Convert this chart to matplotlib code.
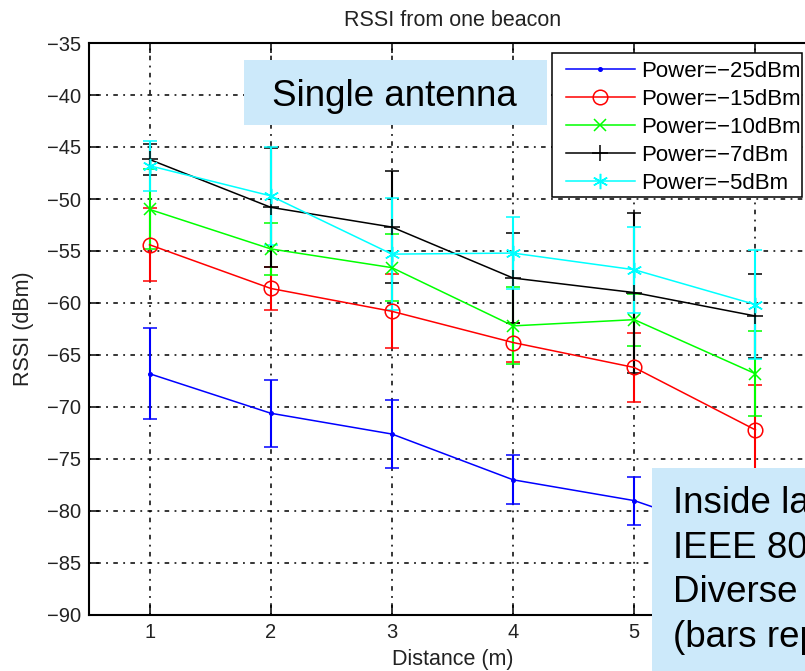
import matplotlib
matplotlib.use("Agg")
import matplotlib.pyplot as plt
from matplotlib.patches import Rectangle
from matplotlib.lines import Line2D

plt.rcParams['font.family'] = ['Liberation Sans', 'DejaVu Sans']

# Mean RSSI (dBm) and standard deviation per distance, one series per TX power
distance = [1, 2, 3, 4, 5, 6]
rssi_m25 = [-66.8, -70.6, -72.6, -77.0, -79.0, -83.0]
std_m25 = [4.35, 3.2, 3.3, 2.35, 2.3, 2.5]
rssi_m15 = [-54.4, -58.6, -60.8, -63.8, -66.2, -72.2]
std_m15 = [3.5, 2.1, 3.55, 1.9, 3.35, 4.35]
rssi_m10 = [-51.0, -54.8, -56.6, -62.2, -61.6, -66.8]
std_m10 = [3.85, 2.5, 3.2, 3.7, 2.5, 4.1]
rssi_m7 = [-46.2, -50.8, -52.7, -57.6, -59.0, -61.25]
std_m7 = [1.5, 5.7, 5.4, 4.35, 7.7, 4.05]
rssi_m5 = [-46.8, -49.7, -55.3, -55.2, -56.8, -60.15]
std_m5 = [2.4, 4.7, 5.35, 3.45, 4.15, 5.25]

labels = ['Power=\u221225dBm', 'Power=\u221215dBm', 'Power=\u221210dBm',
          'Power=\u22127dBm', 'Power=\u22125dBm']
x_ticks = [1, 2, 3, 4, 5, 6]
y_ticks = list(range(-90, -34, 5))

W, H = 805, 671
fig = plt.figure(figsize=(W / 100, H / 100), dpi=100)
ax = fig.add_axes([89 / W, 1 - 615 / H, (816 - 89) / W, (615 - 43) / H])

asterisk = (6, 2, 0)
styles = [
    dict(color='#0000ff', marker='.', ms=5),
    dict(color='#ff0000', marker='o', ms=10.5, mfc='none'),
    dict(color='#00ff00', marker='x', ms=8),
    dict(color='#000000', marker='+', ms=11),
    dict(color='#00ffff', marker=asterisk, ms=11),
]
series = [(rssi_m25, std_m25), (rssi_m15, std_m15), (rssi_m10, std_m10),
          (rssi_m7, std_m7), (rssi_m5, std_m5)]

handles = []
for (y, e), st, lab in zip(series, styles, labels):
    ax.errorbar(distance, y, yerr=e, color=st['color'], marker=st['marker'],
                ms=st['ms'], mfc=st.get('mfc', st['color']), mew=1.1,
                lw=1.1, elinewidth=1.5, capsize=5, capthick=1.5, zorder=3)
    handles.append(Line2D([], [], color=st['color'], marker=st['marker'],
                          ms=st['ms'], mfc=st.get('mfc', st['color']),
                          mew=1.1, lw=1.1))

ax.set_xlim(0.5, 6.5)
ax.set_ylim(-90, -35)
ax.set_xticks(x_ticks)
ax.set_yticks(y_ticks)
ax.set_yticklabels([str(v).replace('-', '\u2212') for v in y_ticks])
ax.grid(True, color='black', linestyle=(0, (1.2, 3.5, 3, 3.5)), linewidth=1.1, zorder=1)
ax.set_axisbelow(True)
ax.tick_params(direction='in', length=7, width=1.1, top=True, right=True,
               labelsize=14.5, pad=6, colors='black', labelcolor='#222222')
for sp in ax.spines.values():
    sp.set_linewidth(1.5)

ax.set_title('RSSI from one beacon', fontsize=15.5, pad=12, color='#222222')
ax.set_xlabel('Distance (m)', fontsize=15.5, labelpad=5, color='#222222')
ax.set_ylabel('RSSI (dBm)', fontsize=15.5, labelpad=9, color='#222222')

# Legend frame and entries
fig.add_artist(Rectangle((552 / W, 1 - 197 / H), 250 / W, 144 / H,
                         transform=fig.transFigure, facecolor='white',
                         edgecolor='black', lw=1.1, zorder=4))
fig.legend(handles, labels, loc='upper left', bbox_to_anchor=(566 / W, 1 - 61 / H),
           frameon=False, fontsize=16, handlelength=3.1, handletextpad=0.3,
           labelspacing=0.31, borderpad=0, borderaxespad=0, numpoints=1)

# Annotation boxes
box_color = '#cce9fa'
fig.add_artist(Rectangle((244 / W, 1 - 125 / H), 303 / W, 65 / H,
                         transform=fig.transFigure, facecolor=box_color,
                         edgecolor='none', zorder=6))
fig.text(272 / W, 1 - 106 / H, 'Single antenna', fontsize=26.5,
         va='baseline', ha='left', zorder=7)

fig.add_artist(Rectangle((652 / W, -0.02), 0.2, 1 - 468 / H + 0.02,
                         transform=fig.transFigure, facecolor=box_color,
                         edgecolor='none', zorder=6))
note_lines = ['Inside lab', 'IEEE 802.15.4', 'Diverse positions', '(bars represent std)']
for line, base in zip(note_lines, [513, 558, 602, 647]):
    fig.text(673 / W, 1 - base / H, line, fontsize=26.5, va='baseline',
             ha='left', zorder=7)

fig.savefig('out.png', dpi=100)
